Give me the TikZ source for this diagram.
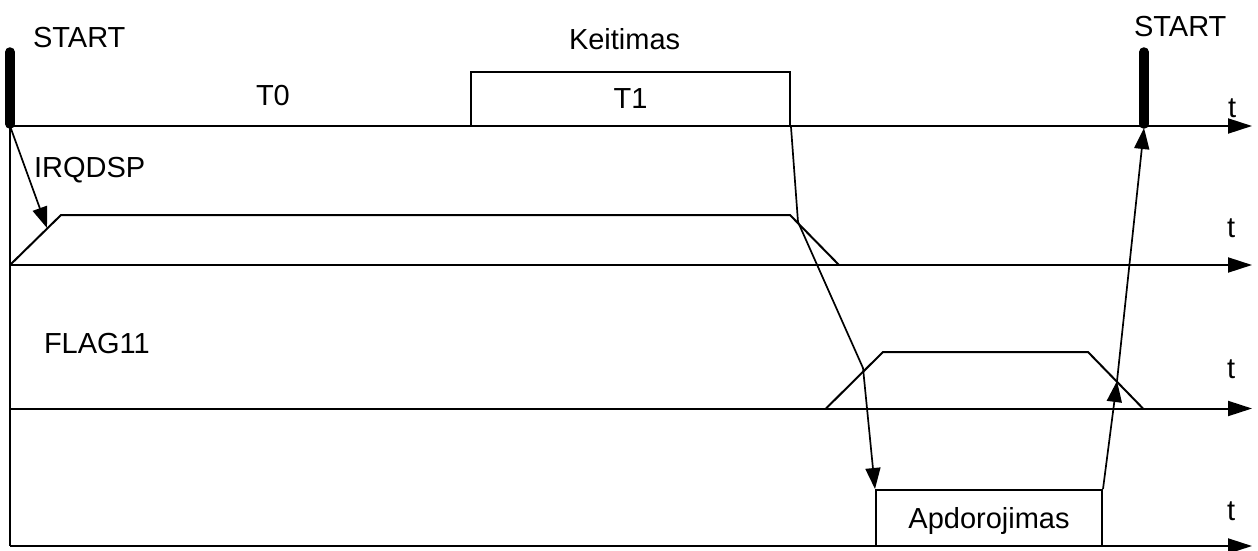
\documentclass[tikz,border=0pt]{standalone}
\usepackage{fontspec}
\setmainfont{Liberation Sans}
\usetikzlibrary{arrows.meta}
\begin{document}
\begin{tikzpicture}[x=1pt,y=-1pt,line width=2pt,
  axisline/.style={-{Triangle[length=24pt,width=15pt]}},
  conn/.style={line width=1.7pt,-{Triangle[length=21pt,width=15pt]}},
  lbl/.style={inner sep=0pt,anchor=base west,font=\fontsize{29}{32}\selectfont},
  bar/.style={line width=9.5pt,line cap=round},
  signalbox/.style={draw,inner sep=0pt,font=\fontsize{29}{32}\selectfont,text depth=0pt}]
\useasboundingbox (0,0) rectangle (1258,551);

% time axes
\coordinate (o1) at (10,126);
\coordinate (o2) at (10,265);
\coordinate (o3) at (10,408.5);
\coordinate (o4) at (10,546);
\coordinate (e1) at (1252,126);
\coordinate (e2) at (1252,265);
\coordinate (e3) at (1252,408.5);
\coordinate (e4) at (1252,546);
\draw (o1) -- (o4);
\draw[axisline] (o1) -- (e1);
\draw[axisline] (o2) -- (e2);
\draw[axisline] (o3) -- (e3);
\draw[axisline] (o4) -- (e4);

% START markers
\coordinate (sLtop) at (10,52);
\coordinate (sLbot) at (10,124);
\coordinate (sRtop) at (1144,52);
\coordinate (sRbot) at (1144,124);
\draw[bar] (sLtop) -- (sLbot);
\draw[bar] (sRtop) -- (sRbot);

% boxes
\node[signalbox,minimum width=319pt,minimum height=54pt] (t1box) at (630.5,99) {T1};
\node[signalbox,minimum width=226pt,minimum height=56pt] (apd) at (989,518) {Apdorojimas};

% IRQDSP signal
\coordinate (i0) at (10,265);
\coordinate (i1) at (61,215);
\coordinate (i2) at (790,215);
\coordinate (i3) at (839,265);
\draw (i0) -- (i1) -- (i2) -- (i3);

% FLAG11 signal
\coordinate (f0) at (826,408.5);
\coordinate (f1) at (883,352);
\coordinate (f2) at (1088,352);
\coordinate (f3) at (1143,408.5);
\draw (f0) -- (f1) -- (f2) -- (f3);

% labels
\node[lbl] (startL) at (32,48) {START};
\node[lbl] (startR) at (1133,37) {START};
\node[lbl] (keit) at (568,50) {Keitimas};
\node[lbl] (t0) at (255,105) {T0};
\node[lbl] (irq) at (33,177) {IRQDSP};
\node[lbl] (flag) at (43,353) {FLAG11};
\node[lbl] (ta) at (1227,117) {t};
\node[lbl] (tb) at (1226,237) {t};
\node[lbl] (tc) at (1226,378) {t};
\node[lbl] (td) at (1226,520) {t};

% event connectors
\coordinate (irqHit) at (47,228);
\coordinate (k1) at (798,222);
\coordinate (k2) at (863,368);
\coordinate (flagHit) at (1117,381);
\coordinate (startHit) at (1144,128);
\draw[conn] (o1) -- (irqHit);
\draw[conn] (t1box.south east) -- (k1) -- (k2) -- (apd.north west);
\draw[conn] (apd.north east) -- (flagHit);
\draw[conn] (flagHit) -- (startHit);
\end{tikzpicture}
\end{document}
